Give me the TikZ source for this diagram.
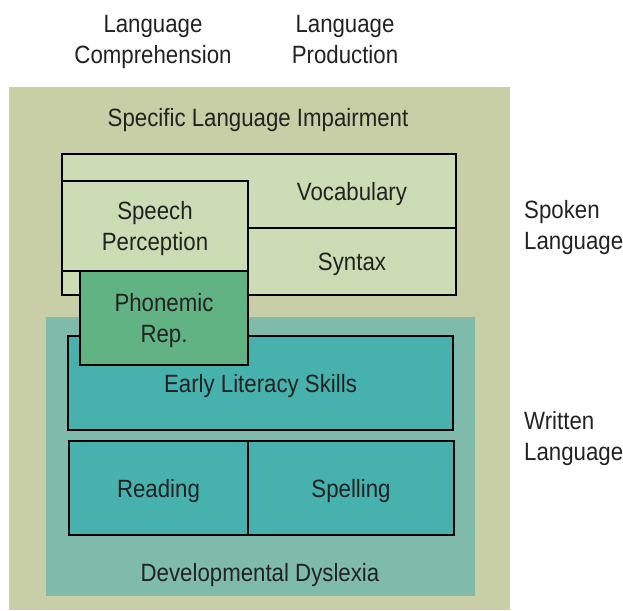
\documentclass[tikz,border=0pt]{standalone}
\usepackage{fontspec}
\setmainfont{Liberation Sans}[FakeStretch=0.89]
\definecolor{olive}{HTML}{C8CFA7}
\definecolor{spokenfill}{HTML}{CCDCB4}
\definecolor{phonfill}{HTML}{62B383}
\definecolor{dysfill}{HTML}{7FBBAA}
\definecolor{writfill}{HTML}{47B1AE}
\definecolor{ink}{HTML}{222222}

\begin{document}
\begin{tikzpicture}[
    x=1pt, y=-1pt,
    every node/.style={font=\fontsize{25}{31}\selectfont, text=ink, text depth=0pt},
    area/.style={rectangle, inner sep=0pt, draw=none},
    box/.style={rectangle, draw=black, line width=2pt, inner sep=0pt},
    spoken/.style={box, fill=spokenfill},
    written/.style={box, fill=writfill},
    side/.style={align=left, anchor=west, inner sep=0pt}
]
    \useasboundingbox (0,0) rectangle (623,610);
    % background areas
    \node[area, fill=olive, minimum width=501pt, minimum height=523pt] (sli) at (259.5,348.5) {};
    \node[area, fill=dysfill, minimum width=429pt, minimum height=279pt] (dd) at (260.5,456.5) {};
    \node (slilabel) at (258,117) {Specific Language Impairment};
    \node (ddlabel) at (260,572) {Developmental Dyslexia};
    % column and row headings
    \node[align=center] (comp) at (153,39.5) {Language\\Comprehension};
    \node[align=center] (prod) at (345,39.5) {Language\\Production};
    \node[side] (spokenlang) at (524,224.5) {Spoken\\Language};
    \node[side] (writtenlang) at (524,435.5) {Written\\Language};
    % spoken language boxes
    \node[spoken, minimum width=394pt, minimum height=141pt] (spokenbox) at (259,224.5) {};
    \node[area, minimum width=208pt, minimum height=74pt] (vocab) at (352,191) {Vocabulary};
    \node[area, minimum width=208pt, minimum height=67pt] (syntax) at (352,261.5) {Syntax};
    \draw[line width=2pt] (vocab.south west) -- (vocab.south east);
    \node[spoken, minimum width=186pt, minimum height=90pt, align=center] (speech) at (155,226) {Speech\\Perception};
    % written language boxes
    \node[written, minimum width=385pt, minimum height=94pt] (early) at (260.5,383) {Early Literacy Skills};
    \node[written, minimum width=179pt, minimum height=94pt] (reading) at (158.5,488) {Reading};
    \node[written, minimum width=206pt, minimum height=94pt] (spelling) at (351,488) {Spelling};
    % overlap
    \node[box, fill=phonfill, minimum width=168pt, minimum height=94pt, align=center] (phon) at (164,318) {Phonemic\\Rep.};
\end{tikzpicture}
\end{document}
